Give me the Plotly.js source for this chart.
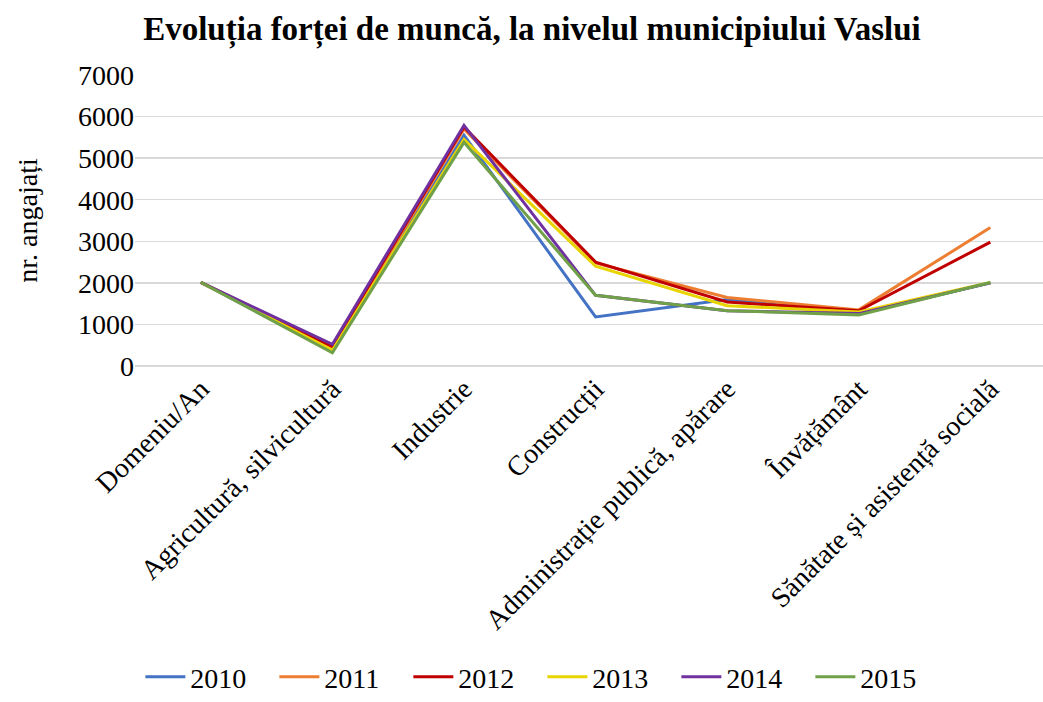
<!DOCTYPE html>
<html>
<head>
<meta charset="utf-8">
<script src="https://cdn.plot.ly/plotly-3.0.1.min.js"></script>
<style>html,body{margin:0;padding:0;background:#fff;}</style>
</head>
<body>
<div id="chart" style="width:1043px;height:702px;"></div>
<script>
const categories = ["Domeniu/An", "Agricultură, silvicultură", "Industrie", "Construcții", "Administrație publică, apărare", "Învățământ", "Sănătate și asistență socială"];
const years = ["2010", "2011", "2012", "2013", "2014", "2015"];
const s2010 = [2010, 350, 5550, 1180, 1600, 1250, 2000];
const s2011 = [2011, 420, 5700, 2480, 1650, 1350, 3330];
const s2012 = [2012, 470, 5750, 2500, 1540, 1330, 2980];
const s2013 = [2013, 380, 5450, 2400, 1450, 1300, 2010];
const s2014 = [2014, 520, 5790, 1700, 1330, 1260, 2000];
const s2015 = [2015, 320, 5380, 1700, 1330, 1230, 2010];
const seriesValues = [s2010, s2011, s2012, s2013, s2014, s2015];
const colors = ["#4472C4", "#ED7D31", "#C00000", "#E8D400", "#7030A0", "#70A048"];

const traces = years.map((y, i) => ({
  type: "scatter",
  mode: "lines",
  name: y,
  x: categories,
  y: seriesValues[i],
  line: {color: colors[i], width: 3}
}));

const FAM = "Liberation Serif";
const f = (size, extra) => Object.assign({family: FAM, size: size, color: "#000"}, extra || {});
const layout = {
  width: 1043, height: 702,
  margin: {l: 135, r: 0, t: 75, b: 336},
  paper_bgcolor: "#fff", plot_bgcolor: "#fff",
  font: f(28),
  title: {text: "<b>Evoluția forței de muncă, la nivelul municipiului Vaslui</b>",
          font: f(33), x: 0.51, xanchor: "center", y: 0.96, yanchor: "middle"},
  xaxis: {
    type: "category", range: [-0.5, 6.4],
    tickangle: -45, showgrid: false, zeroline: false, showline: false,
    ticks: "", tickfont: f(28), automargin: false
  },
  yaxis: {
    range: [0, 7000], dtick: 1000, showgrid: true, gridcolor: "#D9D9D9", gridwidth: 1.5,
    zeroline: true, zerolinecolor: "#D9D9D9", zerolinewidth: 1.5, showline: false,
    tickfont: f(28), ticks: "", automargin: false,
    title: {text: "nr. angajați", font: f(28), standoff: 32}
  },
  showlegend: true,
  legend: {orientation: "h", x: 0.52, xref: "container", xanchor: "center", y: 0, yref: "container", yanchor: "bottom",
           font: f(28), itemwidth: 40, entrywidth: 79, entrywidthmode: "pixels", tracegroupgap: 0},
};

Plotly.newPlot("chart", traces, layout, {displayModeBar: false, staticPlot: true});
</script>
</body>
</html>
